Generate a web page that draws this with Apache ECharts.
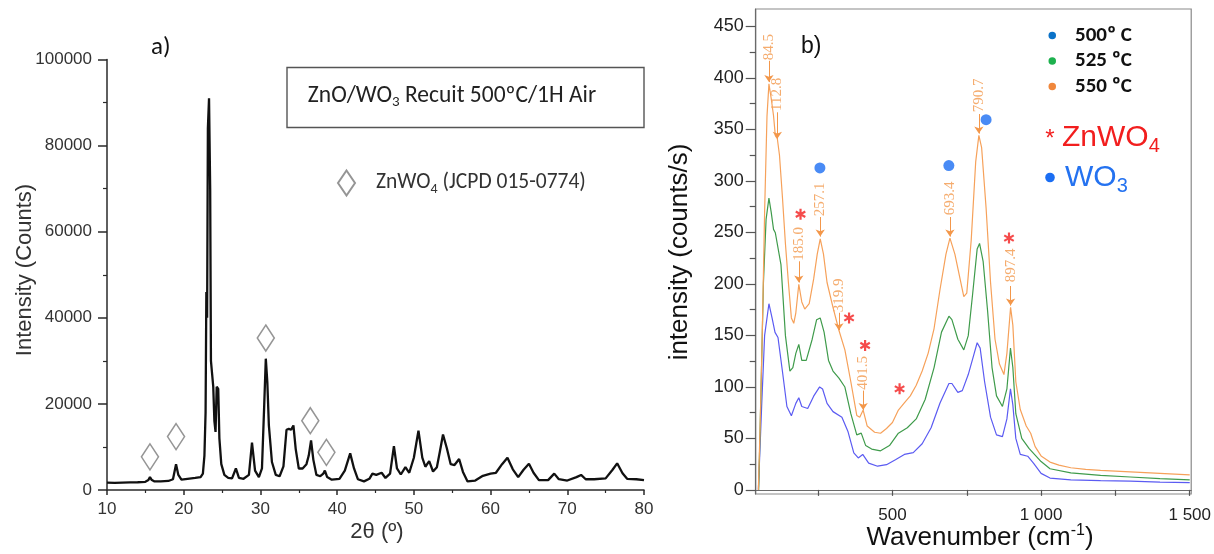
<!DOCTYPE html>
<html>
<head>
<meta charset="utf-8">
<script src="https://cdn.jsdelivr.net/npm/echarts@6/dist/echarts.min.js"></script>
<style>html,body{margin:0;padding:0;background:#fff}#c{width:1214px;height:554px}</style>
</head>
<body>
<div id="c"></div>
<script>
// ---------- Panel a: XRD ----------
const xrdTheta = [10,11,12,13,14,15,15.4,15.6,15.8,16.2,17,18,18.6,19.0,19.3,19.7,20.5,21.5,22.2,22.5,22.7,22.85,22.95,23.05,23.15,23.3,23.45,23.55,23.7,23.85,24.0,24.15,24.3,24.5,24.65,24.9,25.3,25.8,26.3,26.8,27.2,27.8,28.5,28.9,29.3,29.8,30.2,30.5,30.7,30.9,31.1,31.5,32.0,32.5,33.0,33.4,33.7,34.0,34.3,34.6,35.0,35.5,36.0,36.3,36.6,36.9,37.3,37.8,38.2,38.4,38.7,39.3,40.3,41.0,41.7,42.2,42.7,43.5,44.2,44.6,45.1,45.8,46.3,46.9,47.4,47.8,48.3,48.9,49.4,50.0,50.6,51.1,51.5,52.0,52.5,53.0,53.4,53.8,54.3,54.8,55.3,55.9,56.4,57.0,58.0,59.0,60.0,60.7,61.5,62.2,62.9,63.6,64.3,65.0,65.6,66.3,67.5,68.3,68.9,70.0,71.2,71.8,72.4,73.5,75.0,75.9,76.5,77.2,77.8,79.0,80.0];
const xrdCounts = [1700,1650,1700,1750,1800,1900,2300,3000,2400,2000,2000,2100,2500,6000,3500,2400,2600,2800,3000,3800,8000,18000,46000,40000,84000,91000,70000,30000,27000,24000,16000,13500,24000,23500,12000,6000,3500,2800,2700,5000,2800,2600,3500,11000,4500,3000,5000,20000,30500,25000,15000,6500,3500,3200,5500,14000,14200,14000,15000,9500,5000,5000,6000,8000,11500,7000,3500,3200,3800,4500,3000,2400,2600,4500,8500,5000,2500,2000,2600,3800,3500,4000,2800,3800,10200,5000,3600,5300,4000,7500,13800,7500,5400,6700,4300,5300,9000,12900,9700,6000,5800,7200,4200,2000,2200,3300,3800,4000,6000,7500,4800,3000,4700,6100,4000,2300,2300,3800,2500,2200,3000,3500,2500,2500,2700,4700,6200,3900,2600,2500,2300];
const zwDiamondTheta = [15.6, 19.0, 30.7, 36.5, 38.6];
const zwDiamondY = [7700, 12400, 35300, 16100, 8750];

// ---------- Panel b: Raman ----------
const wn500 = [49,60,70,84.5,95,105,115,130,145,160,175,185,195,215,235,255,265,280,300,330,350,370,385,400,420,450,480,510,540,570,600,630,660,690,700,720,735,755,775,785,795,810,830,850,870,885,897,905,915,930,955,975,1000,1030,1100,1200,1300,1400,1500];
const int500 = [0,81,150,180.8,167,153,148,115,81,72,84,89.5,81,79,91,100,98,84,76,70.6,57,36,31,34.4,26,23,24.5,29.3,34.4,36.2,44.8,60.3,84.4,103.3,103.3,94.7,96.4,112,132.6,142.9,137.7,105,70.6,53.4,51.7,68.9,98.1,82.6,50,34.4,32.7,25.8,16,11.5,9.7,9,8.5,7.5,7];
const wn525 = [50,58,66,75,84.5,92,100,106,112,125,140,155,165,175,185,195,210,230,245,257,270,285,300,320,340,360,380,395,410,430,460,490,520,550,580,610,640,665,690,700,720,740,755,770,785,793,805,820,835,850,870,885,897,905,915,935,960,1000,1030,1100,1200,1300,1400,1500];
const int525 = [0,98,201,263,283.4,270,253,249.7,249,218.7,149.8,115.4,118.8,132.6,141.2,125.7,125.7,146.3,165.3,167,153.2,125.7,115.4,108.5,99.9,74,53.4,55.1,43,39.6,37.9,43,55.1,60.3,68.9,87.8,118.8,153.2,168.7,165.3,146.3,136,149.8,191,234,239.3,222,174,118.8,91.3,81,98,137.7,118.8,74,50,40,27.5,20.5,16.5,14,12.5,11,9.7];
const wn550 = [49,55,62,70,78,84.5,92,100,106,112.8,120,130,140,150,160,168,175,185,195,205,220,235,247,257.1,268,280,300,319.9,340,360,380,390,401.5,415,440,460,480,500,520,540,560,580,600,620,640,660,680,693.4,710,725,740,750,765,780,790.7,800,815,830,845,860,875,885,897.4,905,915,930,950,965,980,1000,1030,1060,1100,1150,1200,1300,1400,1500];
const int550 = [0,63.7,150,270,363,394.3,380.5,363.3,344,341,325,284,239,201.4,167,161.8,172,199.7,182.5,175.6,180.8,204.9,229,243.8,229,201.4,177.3,155,136,105,72.3,70.6,77.5,62,56,55,59.6,65.4,77.5,84.4,91.3,101.6,115.4,132.6,156.7,194.6,229,244.5,229,208.3,187.7,191,242.8,318.5,344.3,332.3,273.8,201.4,146.3,122.2,112,132.6,177.3,160,105,78,62,55,42,33,27,24,21.5,20,19,17.5,16,14.5];

const peakLabels = ['84.5','112.8','185.0','257.1','319.9','401.5','693.4','790.7','897.4'];
const peakX = [84.5,112.8,185.0,257.1,319.9,401.5,693.4,790.7,897.4];
const peakLabelY = [430,384,239,282,189,113.6,283,383,218];
const peakArrowTop = [416.7,366.7,222,265,172,96.4,265,365,198];
const peakArrowBottom = [396,341,201.4,246,155,77.5,246,346,179];

const znwo4X = [190.8, 354, 408, 524, 892];
const znwo4Y = [267.6, 167, 140.2, 98.1, 244.5];
const wo3X = [256, 689.7, 815];
const wo3Y = [312.7, 315, 359.5];

const yTicksB = [0,50,100,150,200,250,300,350,400,450];
const yMinorTicksB = [25,75,125,175,225,275,325,375,425];
const xTicksB = [250,500,750,1000,1250,1500];
const xLabelsB = [500,1000,1500];

const zip = (a, b) => a.map((v, i) => [v, b[i]]);

const SANS = 'Liberation Sans, Arial, sans-serif';
const CAL = 'Carlito, Lato, Open Sans, sans-serif';
const SERIF = 'Liberation Serif, Times New Roman, serif';
const ORANGE_TXT = '#F3974A';

const chart = echarts.init(document.getElementById('c'), null, {renderer: 'canvas'});

const option = {
  animation: false,
  backgroundColor: '#fff',
  grid: [
    {left: 107, top: 59.5, width: 537, height: 430.5},
    {left: 755.7, top: 9, width: 448.3, height: 485, show: true, borderColor: '#8a8a8a', borderWidth: 1.2, backgroundColor: 'transparent'}
  ],
  xAxis: [
    {gridIndex: 0, type: 'value', min: 10, max: 80, interval: 10,
     axisLine: {lineStyle: {color: '#2a2a2a', width: 1.5}},
     axisTick: {length: 5, lineStyle: {color: '#2a2a2a', width: 1.5}},
     minorTick: {show: true, splitNumber: 2, length: 3, lineStyle: {color: '#2a2a2a', width: 1.2}},
     axisLabel: {fontFamily: SANS, fontSize: 17, color: '#333', margin: 11},
     splitLine: {show: false}},
    {gridIndex: 1, type: 'value', min: 40, max: 1505,
     axisLine: {lineStyle: {color: '#6a6a6a', width: 1.2}},
     axisTick: {length: 6, customValues: xTicksB, lineStyle: {color: '#555', width: 1.2}},
     axisLabel: {customValues: xLabelsB, fontFamily: SANS, fontSize: 17, color: '#222', margin: 13,
       formatter: v => v >= 1000 ? String(v).replace(/(\d)(\d{3})$/, '$1 $2') : String(v)},
     splitLine: {show: false}}
  ],
  yAxis: [
    {gridIndex: 0, type: 'value', min: 0, max: 100000, interval: 20000,
     axisLine: {show: true, lineStyle: {color: '#2a2a2a', width: 1.5}},
     axisTick: {show: true, length: 9, lineStyle: {color: '#2a2a2a', width: 1.5}},
     minorTick: {show: true, splitNumber: 2, length: 4, lineStyle: {color: '#2a2a2a', width: 1.2}},
     axisLabel: {fontFamily: SANS, fontSize: 17, color: '#333', margin: 15, formatter: v => String(v)},
     splitLine: {show: false}},
    {gridIndex: 1, type: 'value', min: -4, max: 467, position: 'left',
     axisLine: {show: true, lineStyle: {color: '#6a6a6a', width: 1.2}},
     axisTick: {show: true, length: 10, customValues: yTicksB, lineStyle: {color: '#555', width: 1.2}},
     axisLabel: {customValues: yTicksB, fontFamily: SANS, fontSize: 18, color: '#222', margin: 12},
     splitLine: {show: false}},
    {gridIndex: 1, type: 'value', min: -4, max: 467, position: 'left', offset: 0,
     axisLine: {show: false},
     axisTick: {show: true, length: 6, customValues: yMinorTicksB, lineStyle: {color: '#555', width: 1.2}},
     axisLabel: {show: false},
     splitLine: {show: false}}
  ],
  legend: [
    {data: [{name: 'ZnWO4', icon: 'diamond'}], left: 332, top: 164.5, itemWidth: 17, itemHeight: 25,
     selectedMode: false,
     formatter: () => '{a|ZnWO}{s|4}{a| (JCPD 015-0774)}',
     textStyle: {padding: [0, 0, 0, 16], rich: {
       a: {fontFamily: CAL, fontSize: 21.5, color: '#333', lineHeight: 26},
       s: {fontFamily: CAL, fontSize: 14, color: '#333', lineHeight: 14, verticalAlign: 'bottom'}}}},
    {data: [
       {name: '500º C', itemStyle: {color: '#0B72C8'}},
       {name: '525 ºC', itemStyle: {color: '#1DB14E'}},
       {name: '550 ºC', itemStyle: {color: '#F0873C'}}],
     orient: 'vertical', left: 1043.5, top: 20, itemWidth: 7.5, itemHeight: 7.5, icon: 'circle', itemGap: 4.5,
     selectedMode: false,
     textStyle: {fontFamily: CAL, fontWeight: 'bold', fontSize: 21, color: '#111', lineHeight: 20, padding: [0, 0, 0, 14]}}
  ],
  series: [
    {name: 'XRD', type: 'line', xAxisIndex: 0, yAxisIndex: 0, data: zip(xrdTheta, xrdCounts),
     showSymbol: false, lineStyle: {color: '#111', width: 2.3}, z: 3},
    {name: 'ZnWO4', type: 'scatter', xAxisIndex: 0, yAxisIndex: 0, data: zip(zwDiamondTheta, zwDiamondY),
     symbol: 'diamond', symbolSize: [17, 26],
     itemStyle: {color: 'rgba(255,255,255,0)', borderColor: '#7a7a7a', borderWidth: 1.6}, z: 4},
    {name: '500º C', type: 'line', xAxisIndex: 1, yAxisIndex: 1, data: zip(wn500, int500),
     showSymbol: false, lineStyle: {color: '#5B5BF2', width: 1.2}, itemStyle: {color: '#5B5BF2'}},
    {name: '525 ºC', type: 'line', xAxisIndex: 1, yAxisIndex: 1, data: zip(wn525, int525),
     showSymbol: false, lineStyle: {color: '#3F9B4B', width: 1.2}, itemStyle: {color: '#3F9B4B'}},
    {name: '550 ºC', type: 'line', xAxisIndex: 1, yAxisIndex: 1, data: zip(wn550, int550),
     showSymbol: false, lineStyle: {color: '#F6A15A', width: 1.2}, itemStyle: {color: '#F6A15A'}},
    {name: 'peaks', type: 'scatter', xAxisIndex: 1, yAxisIndex: 1,
     data: peakX.map((x, i) => ({value: [x, peakLabelY[i]], label: {formatter: peakLabels[i]}})),
     symbolSize: 0, silent: true,
     label: {show: true, position: 'inside', rotate: 90, fontFamily: SERIF, fontSize: 15, color: ORANGE_TXT},
     markLine: {silent: true, symbol: ['none', 'arrow'], symbolSize: 7, animation: false,
       label: {show: false}, lineStyle: {color: ORANGE_TXT, width: 1, type: 'solid'},
       data: peakX.map((x, i) => [{coord: [x, peakArrowTop[i]]}, {coord: [x, peakArrowBottom[i]]}])}},
    {name: 'ZnWO4 marks', type: 'scatter', xAxisIndex: 1, yAxisIndex: 1, data: zip(znwo4X, znwo4Y),
     symbol: 'path://M0,-10L0,10M-8.66,-5L8.66,5M-8.66,5L8.66,-5', symbolSize: 11, symbolKeepAspect: true,
     itemStyle: {color: 'rgba(255,0,0,0)', borderColor: '#F21E1E', borderWidth: 2.2}, z: 5},
    {name: 'WO3 marks', type: 'scatter', xAxisIndex: 1, yAxisIndex: 1, data: zip(wo3X, wo3Y),
     symbol: 'circle', symbolSize: 11, itemStyle: {color: '#1B6EF3'}, z: 5}
  ],
  graphic: [
    {type: 'text', x: 151, y: 48, style: {text: 'a)', font: '25px ' + CAL, fill: '#111', align: 'left', verticalAlign: 'middle'}},
    {type: 'rect', shape: {x: 287, y: 67.5, width: 357, height: 60}, style: {fill: 'none', stroke: '#555', lineWidth: 1.4}},
    {type: 'text', x: 452, y: 96, style: {
      text: '{a|ZnO/WO}{s|3}{a| Recuit 500ºC/1H Air}', align: 'center', verticalAlign: 'middle',
      rich: {a: {fontFamily: CAL, fontSize: 23.5, fill: '#222', lineHeight: 28},
             s: {fontFamily: CAL, fontSize: 15, fill: '#222', lineHeight: 15, verticalAlign: 'bottom'}}}},
    {type: 'text', x: 25, y: 270, rotation: Math.PI / 2, style: {text: 'Intensity (Counts)', font: '22px ' + SANS, fill: '#333', align: 'center', verticalAlign: 'middle'}},
    {type: 'text', x: 377, y: 532, style: {text: '2θ (º)', font: '22px ' + SANS, fill: '#333', align: 'center', verticalAlign: 'middle'}},
    {type: 'text', x: 801, y: 47, style: {text: 'b)', font: '23px ' + SANS, fill: '#111', align: 'left', verticalAlign: 'middle'}},
    {type: 'text', x: 680, y: 252, rotation: Math.PI / 2, style: {text: 'intensity (counts/s)', font: '26px ' + SANS, fill: '#111', align: 'center', verticalAlign: 'middle'}},
    {type: 'text', x: 980, y: 538, style: {
      text: '{a|Wavenumber (cm}{p|-1}{a|)}', align: 'center', verticalAlign: 'middle',
      rich: {a: {fontFamily: SANS, fontSize: 26, fill: '#111', lineHeight: 30},
             p: {fontFamily: SANS, fontSize: 16, fill: '#111', lineHeight: 16, verticalAlign: 'top'}}}},
    {type: 'text', x: 1050, y: 139, style: {text: '*', font: '24px ' + SANS, fill: '#F21E1E', align: 'center', verticalAlign: 'middle'}},
    {type: 'text', x: 1062, y: 138, style: {
      text: '{a|ZnWO}{s|4}', align: 'left', verticalAlign: 'middle',
      rich: {a: {fontFamily: SANS, fontSize: 30, fill: '#F21E1E', lineHeight: 36},
             s: {fontFamily: SANS, fontSize: 20, fill: '#F21E1E', lineHeight: 16, verticalAlign: 'bottom'}}}},
    {type: 'circle', shape: {cx: 1050, cy: 177.5, r: 4.8}, style: {fill: '#1B6EF3'}},
    {type: 'text', x: 1065, y: 178, style: {
      text: '{a|WO}{s|3}', align: 'left', verticalAlign: 'middle',
      rich: {a: {fontFamily: SANS, fontSize: 30, fill: '#2472F0', lineHeight: 36},
             s: {fontFamily: SANS, fontSize: 20, fill: '#2472F0', lineHeight: 16, verticalAlign: 'bottom'}}}}
  ]
};
chart.setOption(option);
</script>
</body>
</html>
